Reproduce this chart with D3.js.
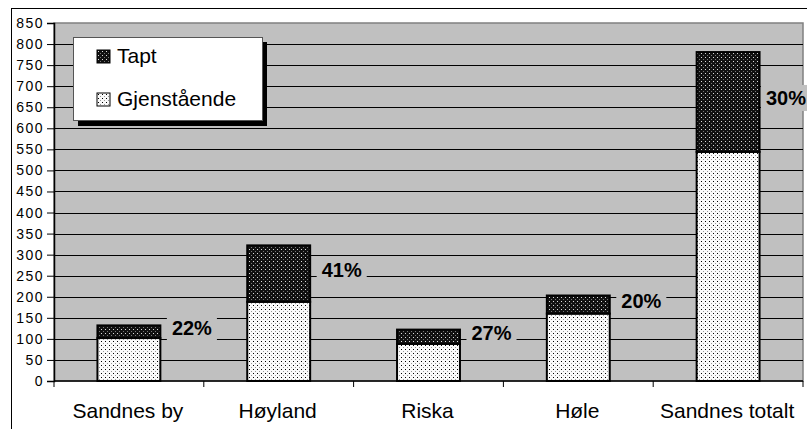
<!DOCTYPE html>
<html>
<head>
<meta charset="utf-8">
<script src="https://cdn.jsdelivr.net/npm/d3@7"></script>
<style>
  body { margin: 0; background: #fff; }
  svg { display: block; font-family: "Liberation Sans", Arial, sans-serif; }
</style>
</head>
<body>
<svg id="chart"></svg>
<script>
"use strict";

// Data
var categories = ["Sandnes by", "Høyland", "Riska", "Høle", "Sandnes totalt"];
var gjenstaaende = [102, 188, 88, 160, 544];
var tapt = [30, 134, 34, 43, 237];
var pctLabels = ["22%", "41%", "27%", "20%", "30%"];
var yTicks = d3.range(0, 851, 50);
var legendNames = ["Tapt", "Gjenstående"];

var W = 807, H = 429;
var plot = {left: 54, top: 23, right: 803, bottom: 381};

var svg = d3.select("#chart").attr("width", W).attr("height", H);

// Patterns (stipple fills like the original)
var defs = svg.append("defs");
var pDark = defs.append("pattern").attr("id", "patTapt")
  .attr("width", 4).attr("height", 4).attr("patternUnits", "userSpaceOnUse");
pDark.append("rect").attr("width", 4).attr("height", 4).attr("fill", "#111");
pDark.append("rect").attr("x", 1).attr("y", 1).attr("width", 1).attr("height", 1).attr("fill", "#ddd");
pDark.append("rect").attr("x", 3).attr("y", 3).attr("width", 1).attr("height", 1).attr("fill", "#777");

var pLight = defs.append("pattern").attr("id", "patGjen")
  .attr("width", 4).attr("height", 4).attr("patternUnits", "userSpaceOnUse");
pLight.append("rect").attr("width", 4).attr("height", 4).attr("fill", "#fafafa");
pLight.append("rect").attr("x", 1).attr("y", 1).attr("width", 1).attr("height", 1).attr("fill", "#000");
pLight.append("rect").attr("x", 3).attr("y", 3).attr("width", 1).attr("height", 1).attr("fill", "#999");

// outer chart border
svg.append("rect")
  .attr("x", 11.5).attr("y", 8.5)
  .attr("width", W).attr("height", H)
  .attr("fill", "#fff").attr("stroke", "#000").attr("stroke-width", 1);

var x = d3.scaleBand().domain(categories).range([plot.left, plot.right]).padding(0);
var y = d3.scaleLinear().domain([0, 850]).range([plot.bottom, plot.top]);

// plot background
svg.append("rect")
  .attr("x", plot.left).attr("y", plot.top)
  .attr("width", plot.right - plot.left).attr("height", plot.bottom - plot.top)
  .attr("fill", "#c0c0c0").attr("stroke", "#808080").attr("stroke-width", 1.5);

// gridlines
svg.append("g").selectAll("line")
  .data(yTicks.filter(function(d) { return d > 0 && d < 850; }))
  .enter().append("line")
  .attr("x1", plot.left).attr("x2", plot.right)
  .attr("y1", function(d) { return Math.round(y(d)) + 0.5; })
  .attr("y2", function(d) { return Math.round(y(d)) + 0.5; })
  .attr("stroke", "#000").attr("stroke-width", 1);

// y axis
var yAxis = svg.append("g")
  .attr("transform", "translate(" + plot.left + ",0)")
  .call(d3.axisLeft(y).tickValues(yTicks).tickSize(7).tickPadding(3));
yAxis.select(".domain").attr("stroke", "#000").attr("stroke-width", 1.5);
yAxis.selectAll(".tick line").attr("stroke", "#000");
yAxis.selectAll(".tick text")
  .attr("font-size", 14).attr("fill", "#000")
  .style("letter-spacing", "1.5px")
  .attr("font-family", "'Liberation Sans', Arial, sans-serif");

// bars
var barW = x.bandwidth() * 0.42;
function barX(c) { return x(c) + (x.bandwidth() - barW) / 2; }

var bars = svg.append("g");
bars.selectAll(".gjen")
  .data(categories)
  .enter().append("rect")
  .attr("x", function(c) { return barX(c); })
  .attr("y", function(c, i) { return y(gjenstaaende[i]); })
  .attr("width", barW)
  .attr("height", function(c, i) { return y(0) - y(gjenstaaende[i]); })
  .attr("fill", "url(#patGjen)").attr("stroke", "#000").attr("stroke-width", 2);

bars.selectAll(".tapt")
  .data(categories)
  .enter().append("rect")
  .attr("x", function(c) { return barX(c); })
  .attr("y", function(c, i) { return y(gjenstaaende[i] + tapt[i]); })
  .attr("width", barW)
  .attr("height", function(c, i) { return y(gjenstaaende[i]) - y(gjenstaaende[i] + tapt[i]); })
  .attr("fill", "url(#patTapt)").attr("stroke", "#000").attr("stroke-width", 2);

// x axis
svg.append("line")
  .attr("x1", plot.left).attr("x2", plot.right)
  .attr("y1", plot.bottom).attr("y2", plot.bottom)
  .attr("stroke", "#000").attr("stroke-width", 1.5);

var bounds = categories.map(function(c) { return x(c); }).concat([plot.right]);
svg.append("g").selectAll("line")
  .data(bounds)
  .enter().append("line")
  .attr("x1", function(d) { return d; }).attr("x2", function(d) { return d; })
  .attr("y1", plot.bottom).attr("y2", plot.bottom + 6)
  .attr("stroke", "#000").attr("stroke-width", 1);

var xAxis = svg.append("g")
  .attr("transform", "translate(0," + plot.bottom + ")")
  .call(d3.axisBottom(x).tickSize(0).tickPadding(22));
xAxis.select(".domain").remove();
xAxis.selectAll(".tick text")
  .attr("font-size", 21).attr("fill", "#000")
  .attr("font-family", "'Liberation Sans', Arial, sans-serif")
  .attr("dx", -1);

// percent labels
var labels = svg.append("g").selectAll("g")
  .data(categories)
  .enter().append("g");

labels.each(function(c, i) {
  var g = d3.select(this);
  var mid = (y(gjenstaaende[i]) + y(gjenstaaende[i] + tapt[i])) / 2 - 4;
  var t = g.append("text")
    .attr("y", mid)
    .attr("dy", "0.36em")
    .attr("font-size", 20).attr("font-weight", "bold")
    .attr("text-anchor", "middle")
    .attr("fill", "#000")
    .text(pctLabels[i]);
  var cx = x(c) + x.bandwidth() / 2 + 63;
  var tw = t.node().getComputedTextLength();
  if (cx + tw / 2 > W - 1) cx = W - 1 - tw / 2;
  t.attr("x", cx);
  g.insert("rect", "text")
    .attr("x", cx - tw / 2 - 5).attr("y", mid - 13)
    .attr("width", tw + 10).attr("height", 26)
    .attr("fill", "#c0c0c0");
});

// legend
var leg = svg.append("g").attr("transform", "translate(73,37)");
leg.append("rect")
  .attr("x", 5).attr("y", 5).attr("width", 189).attr("height", 84)
  .attr("fill", "#000");
leg.append("rect")
  .attr("x", 0.5).attr("y", 0.5).attr("width", 189).attr("height", 83)
  .attr("fill", "#fff").attr("stroke", "#555").attr("stroke-width", 1);

var items = leg.selectAll(".item")
  .data(legendNames)
  .enter().append("g")
  .attr("transform", function(d, i) { return "translate(24," + (13 + i * 43) + ")"; });
items.append("rect")
  .attr("width", 13).attr("height", 13)
  .attr("fill", function(d, i) { return i === 0 ? "url(#patTapt)" : "url(#patGjen)"; })
  .attr("stroke", "#000").attr("stroke-width", 1);
items.append("text")
  .attr("x", 20).attr("y", 13)
  .attr("font-size", 21).attr("fill", "#000")
  .text(function(d) { return d; });
</script>
</body>
</html>
